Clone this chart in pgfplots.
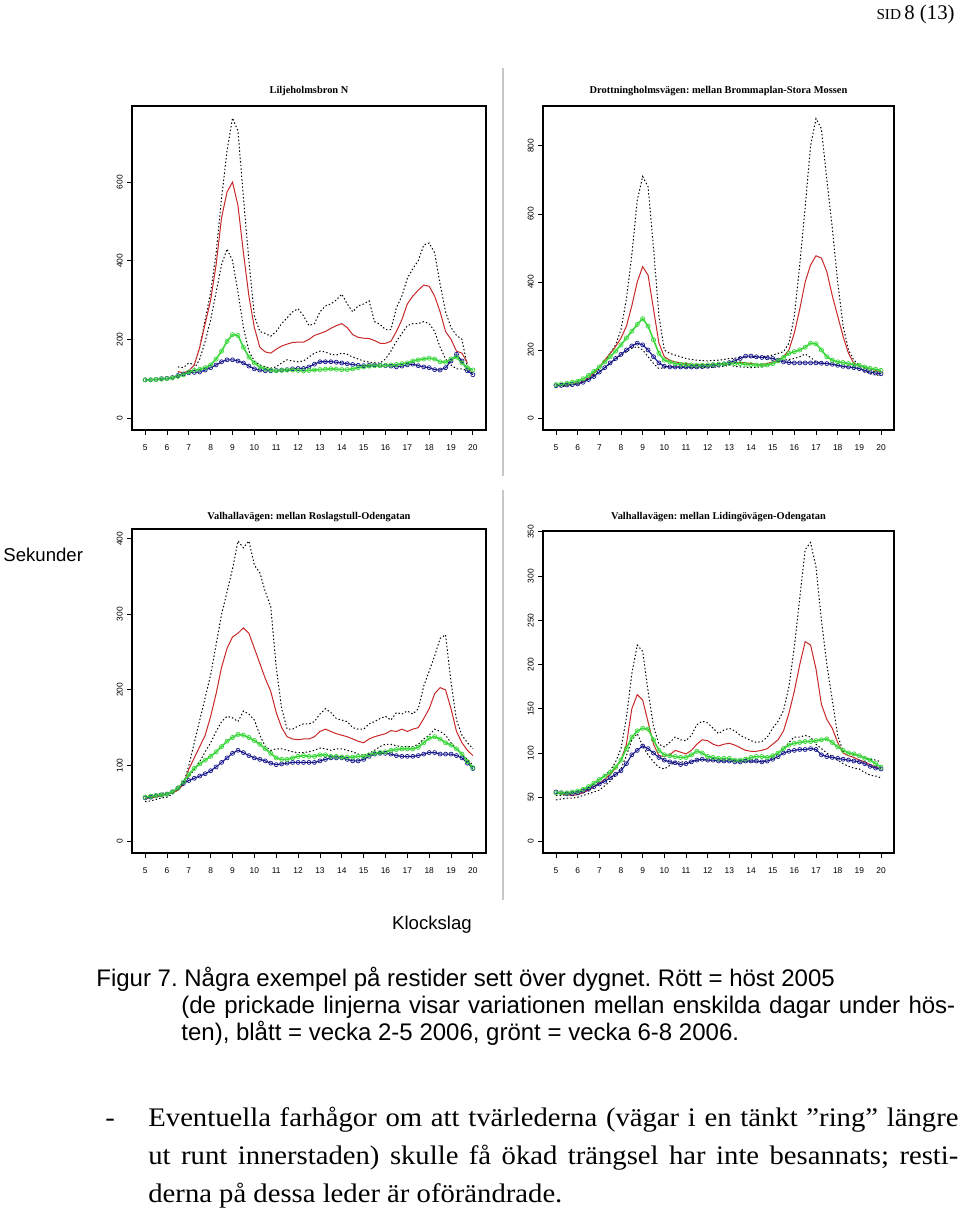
\documentclass[border=0pt]{standalone}
\usepackage{fontspec}
\setmainfont{Liberation Serif}
\newfontfamily\arial{Liberation Sans}
\newfontfamily\bodyfont[FakeStretch=1.07]{Liberation Serif}
\usepackage{pgfplots}
\usepackage{pgfplotstable}
\pgfplotsset{compat=1.18}
\frenchspacing

\definecolor{rred}{RGB}{200,40,40}
\definecolor{rblue}{RGB}{25,25,140}
\definecolor{rgreen}{RGB}{60,215,60}

\pgfplotstableread{
x r u l b g
5 nan nan nan 97 97
5.25 nan nan nan 97 97
5.5 nan nan nan 98 98
5.75 nan nan nan 100 99
6 nan nan nan 101 100
6.25 nan nan nan 103 102
6.5 118 130 118 108 106
6.75 115 128 112 112 110
7 120 140 115 115 117
7.25 135 135 125 116 121
7.5 180 180 150 117 124
7.75 240 250 195 122 128
8 300 320 250 128 135
8.25 390 420 320 135 150
8.5 510 560 390 143 170
8.75 575 680 430 148 195
9 600 763 400 148 212
9.25 540 730 320 145 210
9.5 420 560 230 140 180
9.75 310 400 170 132 155
10 230 260 145 125 140
10.25 180 220 135 122 130
10.5 168 215 130 120 125
10.75 165 208 127 120 122
11 175 220 130 121 120
11.25 183 240 140 122 121
11.5 188 255 148 123 122
11.75 192 270 145 125 122
12 193 278 143 126 121
12.25 193 260 145 126 120
12.5 200 235 155 130 121
12.75 210 240 165 137 122
13 215 270 170 143 123
13.25 220 285 168 143 124
13.5 228 290 162 143 125
13.75 235 300 160 142 124
14 240 315 165 140 123
14.25 230 290 162 138 123
14.5 212 270 155 136 125
14.75 205 285 150 134 128
15 203 290 145 133 130
15.25 202 298 142 134 132
15.5 197 245 140 135 133
15.75 190 238 140 134 133
16 190 225 150 133 134
16.25 195 225 170 132 135
16.5 220 280 195 130 136
16.75 250 310 215 132 138
17 290 355 235 135 140
17.25 310 380 240 137 145
17.5 325 400 240 133 148
17.75 338 440 245 130 150
18 335 445 240 128 152
18.25 310 420 220 123 150
18.5 270 340 180 122 143
18.75 220 270 150 128 142
19 200 230 135 145 150
19.25 170 210 125 162 155
19.5 165 200 125 145 140
19.75 140 130 120 120 128
20 nan 115 115 110 122
}\tabTL

\pgfplotstableread{
x r u l b g
5 95 95 90 95 98
5.25 96 96 92 96 100
5.5 97 97 95 97 102
5.75 99 98 97 98 105
6 102 100 100 100 108
6.25 108 107 107 105 115
6.5 118 115 115 113 125
6.75 133 130 125 122 137
7 150 145 135 135 150
7.25 170 168 148 148 165
7.5 190 190 160 162 180
7.75 210 215 172 175 197
8 235 260 185 187 215
8.25 270 350 195 200 235
8.5 330 480 205 212 255
8.75 400 640 210 220 275
9 445 710 200 215 292
9.25 420 680 180 200 270
9.5 320 500 160 180 230
9.75 220 300 145 162 190
10 180 200 148 152 170
10.25 170 190 150 150 165
10.5 165 185 150 150 160
10.75 162 180 149 150 158
11 160 175 148 150 157
11.25 158 172 148 150 156
11.5 157 170 148 150 155
11.75 156 169 148 151 155
12 156 168 148 152 156
12.25 156 169 149 154 157
12.5 157 170 150 156 158
12.75 158 172 152 159 159
13 160 175 155 163 160
13.25 162 176 152 168 160
13.5 163 178 150 175 160
13.75 162 178 149 182 158
14 160 178 148 182 157
14.25 158 179 149 180 156
14.5 158 180 150 178 155
14.75 160 182 155 177 156
15 165 185 160 175 160
15.25 170 190 165 170 168
15.5 180 195 170 165 178
15.75 200 220 172 163 190
16 250 300 175 162 195
16.25 320 450 180 162 200
16.5 400 620 188 162 208
16.75 450 800 178 162 220
17 477 880 165 162 218
17.25 470 850 162 161 200
17.5 430 700 160 160 180
17.75 360 560 158 158 170
18 300 400 155 155 165
18.25 240 270 152 152 163
18.5 190 200 150 150 160
18.75 160 170 148 148 157
19 155 155 145 145 155
19.25 150 148 138 140 150
19.5 145 140 130 135 146
19.75 140 135 127 132 143
20 135 130 125 130 140
}\tabTR

\pgfplotstableread{
x r u l b g
5 56 57 52 57 58
5.25 57 60 53 58 59
5.5 58 62 55 60 60
5.75 60 63 57 61 61
6 62 64 58 62 62
6.25 64 65 62 65 65
6.5 67 68 68 70 70
6.75 75 75 76 76 78
7 95 100 85 80 88
7.25 110 130 95 83 96
7.5 125 160 105 86 102
7.75 140 190 118 89 107
8 165 220 130 93 112
8.25 195 260 145 98 118
8.5 230 300 158 104 125
8.75 255 330 165 110 132
9 270 360 163 116 137
9.25 275 397 158 120 141
9.5 282 388 172 117 140
9.75 275 397 168 113 137
10 255 365 160 110 133
10.25 235 355 140 108 128
10.5 215 330 125 106 122
10.75 198 310 120 103 116
11 170 230 122 101 110
11.25 150 175 122 102 108
11.5 138 148 120 103 108
11.75 135 148 118 104 110
12 134 152 117 104 112
12.25 135 155 117 104 113
12.5 135 155 118 104 112
12.75 138 158 120 104 112
13 145 168 123 106 114
13.25 148 175 122 108 114
13.5 145 170 120 110 112
13.75 142 162 122 110 112
14 140 160 122 110 111
14.25 138 158 120 108 111
14.5 135 150 118 106 111
14.75 132 148 115 106 112
15 130 148 113 108 112
15.25 135 155 116 112 114
15.5 138 158 120 115 116
15.75 140 162 125 116 117
16 142 165 128 116 118
16.25 146 160 128 115 120
16.5 145 170 126 113 121
16.75 148 168 125 112 122
17 145 172 125 112 122
17.25 148 168 125 112 122
17.5 150 175 128 113 124
17.75 162 205 135 115 130
18 175 225 140 117 136
18.25 195 245 148 117 138
18.5 203 268 145 115 135
18.75 200 273 140 115 130
19 175 210 130 115 127
19.25 145 160 122 113 122
19.5 130 140 115 110 115
19.75 120 130 108 103 105
20 113 122 100 96 97
}\tabBL

\pgfplotstableread{
x r u l b g
5 55 52 47 56 55
5.25 54 52 48 55 55
5.5 53 53 49 54 55
5.75 52 54 49 54 56
6 53 55 50 55 57
6.25 55 57 52 57 59
6.5 58 60 54 59 62
6.75 62 65 56 62 66
7 66 70 58 65 70
7.25 70 75 63 68 74
7.5 76 80 68 72 78
7.75 83 90 75 76 84
8 92 105 82 80 92
8.25 110 140 97 88 105
8.5 150 190 115 98 118
8.75 166 222 122 103 125
9 160 215 108 108 128
9.25 135 170 98 105 127
9.5 110 130 90 100 115
9.75 97 110 84 95 103
10 96 107 82 92 98
10.25 98 112 86 90 97
10.5 103 118 90 89 96
10.75 101 115 90 87 95
11 99 114 90 88 95
11.25 103 120 91 90 98
11.5 110 132 92 92 102
11.75 115 136 92 93 100
12 114 134 92 92 96
12.25 110 128 92 92 95
12.5 108 122 92 91 94
12.75 110 126 92 91 94
13 111 128 92 91 94
13.25 109 125 91 90 92
13.5 106 120 90 90 92
13.75 103 117 90 91 93
14 102 114 90 91 95
14.25 102 112 90 91 96
14.5 103 113 90 90 96
14.75 105 118 92 91 95
15 110 128 95 93 97
15.25 115 136 100 96 100
15.5 125 148 105 100 105
15.75 145 175 112 102 109
16 170 220 118 103 111
16.25 200 275 118 104 112
16.5 226 330 120 104 113
16.75 222 338 118 105 113
17 195 310 110 104 114
17.25 155 250 105 98 115
17.5 138 200 100 96 116
17.75 128 160 96 95 112
18 112 120 92 94 107
18.25 100 102 88 93 103
18.5 97 100 85 92 100
18.75 95 98 83 91 99
19 92 97 82 90 97
19.25 90 95 78 88 94
19.5 87 93 75 85 92
19.75 84 92 74 83 88
20 82 90 72 82 84
}\tabBR

\pgfplotsset{
  rpanel/.style={
    scale only axis, anchor=north west,
    xmin=4.4, xmax=20.6, xtick={5,...,20},
    tick align=outside, tick pos=left,
    major tick length=2.5pt,
    axis line style={line width=0.6pt, black},
    every tick/.style={black, line width=0.4pt},
    /pgf/number format/assume math mode=true,
    ticklabel style={font=\arial\fontsize{4.2}{5}\selectfont, inner sep=0pt},
    xticklabel style={anchor=north},
    yticklabel style={rotate=90, anchor=south},
    xticklabel shift=4.5pt,
    yticklabel shift=2pt,
    unbounded coords=jump,
    title style={font=\fontsize{5.2}{6}\selectfont\bfseries, anchor=base, at={(0.5,1)}, inner sep=0pt},
    dotl/.style={black, line width=0.5pt, dash pattern=on 0.7pt off 1.1pt},
    redl/.style={rred, line width=0.5pt},
    bluel/.style={rblue, line width=0.55pt, mark=o, mark size=1pt, mark options={line width=0.35pt}},
    greenl/.style={rgreen, line width=0.8pt, mark=o, mark size=1.05pt, mark options={line width=0.35pt}},
  }
}

\begin{document}
\begin{tikzpicture}
\useasboundingbox (0,0) rectangle (480pt,-604.5pt);

% separators
\draw[black!22, line width=1pt] (251.5pt,-34pt) -- (251.5pt,-238pt);
\draw[black!22, line width=1pt] (251.5pt,-245pt) -- (251.5pt,-450pt);

% top-left
\begin{axis}[rpanel, at={(66pt,-53pt)}, width=177pt, height=162pt,
  ymin=-30.5, ymax=793.5, ytick={0,200,400,600},
  title style={yshift=0pt},
  title={Liljeholmsbron N}]
\addplot[dotl] table[x=x,y=u] {\tabTL};
\addplot[dotl] table[x=x,y=l] {\tabTL};
\addplot[redl] table[x=x,y=r] {\tabTL};
\addplot[bluel] table[x=x,y=b] {\tabTL};
\addplot[greenl] table[x=x,y=g] {\tabTL};
\end{axis}

% top-right
\begin{axis}[rpanel, at={(271.5pt,-53pt)}, width=175.5pt, height=162pt,
  ymin=-35.3, ymax=917.3, ytick={0,200,400,600,800},
  title style={yshift=0pt},
  title={Drottningholmsvägen: mellan Brommaplan-Stora Mossen}]
\addplot[dotl] table[x=x,y=u] {\tabTR};
\addplot[dotl] table[x=x,y=l] {\tabTR};
\addplot[redl] table[x=x,y=r] {\tabTR};
\addplot[bluel] table[x=x,y=b] {\tabTR};
\addplot[greenl] table[x=x,y=g] {\tabTR};
\end{axis}

% bottom-left
\begin{axis}[rpanel, at={(66pt,-264.5pt)}, width=177pt, height=162pt,
  ymin=-15.9, ymax=412.9, ytick={0,100,200,300,400},
  title style={yshift=-1pt},
  title={Valhallavägen: mellan Roslagstull-Odengatan}]
\addplot[dotl] table[x=x,y=u] {\tabBL};
\addplot[dotl] table[x=x,y=l] {\tabBL};
\addplot[redl] table[x=x,y=r] {\tabBL};
\addplot[bluel] table[x=x,y=b] {\tabBL};
\addplot[greenl] table[x=x,y=g] {\tabBL};
\end{axis}

% bottom-right
\begin{axis}[rpanel, at={(271.5pt,-265.5pt)}, width=175.5pt, height=161pt,
  ymin=-13, ymax=351, ytick={0,50,...,350},
  title style={yshift=0pt},
  title={Valhallavägen: mellan Lidingövägen-Odengatan}]
\addplot[dotl] table[x=x,y=u] {\tabBR};
\addplot[dotl] table[x=x,y=l] {\tabBR};
\addplot[redl] table[x=x,y=r] {\tabBR};
\addplot[bluel] table[x=x,y=b] {\tabBR};
\addplot[greenl] table[x=x,y=g] {\tabBR};
\end{axis}

% page texts
\node[anchor=base east, inner sep=0pt] at (477.5pt,-10pt)
  {{\fontsize{7.6}{9}\selectfont SID}\,{\fontsize{10.4}{12}\selectfont 8 (13)}};
\node[anchor=base west, inner sep=0pt, font=\arial\fontsize{9.3}{11}\selectfont] at (1.5pt,-280.5pt) {Sekunder};
\node[anchor=base, inner sep=0pt, font=\arial\fontsize{9.3}{11}\selectfont] at (216pt,-464.5pt) {Klockslag};

\begin{scope}[every node/.style={anchor=base west, inner sep=0pt, font=\arial\fontsize{12}{14}\selectfont}]
\node at (48pt,-493pt) {Figur 7. Några exempel på restider sett över dygnet. Rött = höst 2005};
\node at (90.5pt,-506.5pt) {\makebox[387pt][s]{(de prickade linjerna visar variationen mellan enskilda dagar under hös-}};
\node at (90.5pt,-520pt) {ten), blått = vecka 2-5 2006, grönt = vecka 6-8 2006.};
\end{scope}

\begin{scope}[every node/.style={anchor=base west, inner sep=0pt, font=\bodyfont\fontsize{13.4}{16}\selectfont}]
\node at (52.5pt,-563pt) {-};
\node at (74pt,-563pt) {\makebox[405pt][s]{Eventuella farhågor om att tvärlederna (vägar i en tänkt ”ring” längre}};
\node at (74pt,-582pt) {\makebox[405pt][s]{ut runt innerstaden) skulle få ökad trängsel har inte besannats; resti-}};
\node at (74pt,-601pt) {derna på dessa leder är oförändrade.};
\end{scope}
\end{tikzpicture}
\end{document}
